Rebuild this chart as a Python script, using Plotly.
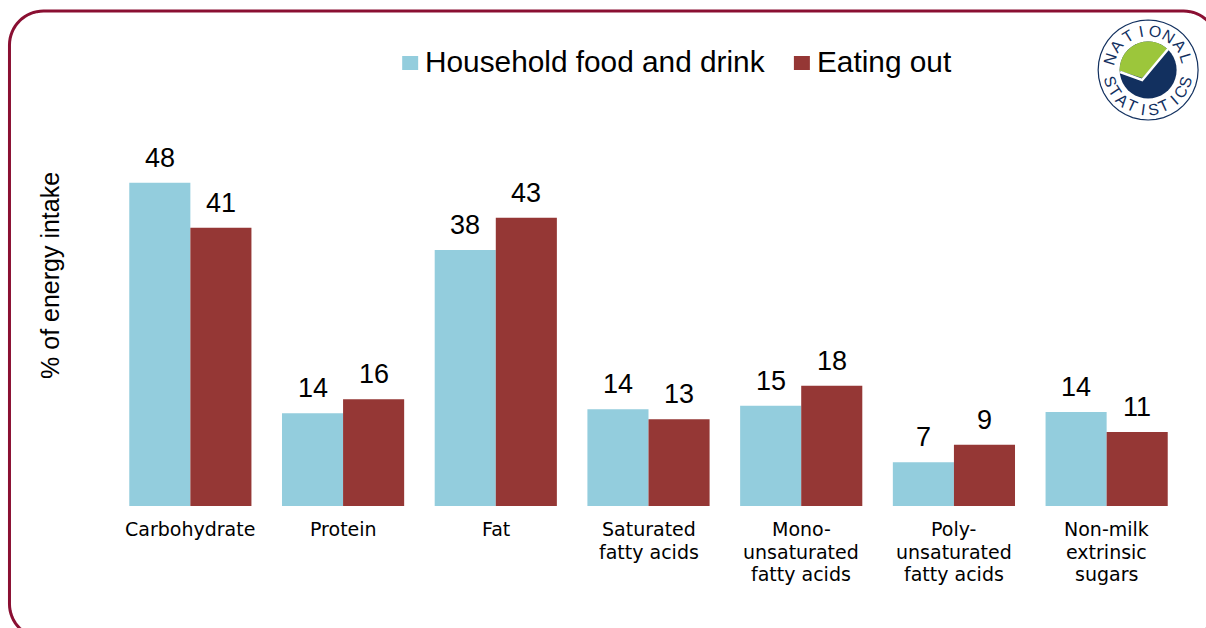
import math
import plotly.graph_objects as go

W, H = 1206, 628
categories = ["Carbohydrate", "Protein", "Fat", "Saturated fatty acids",
              "Mono-unsaturated fatty acids", "Poly-unsaturated fatty acids",
              "Non-milk extrinsic sugars"]
category_lines = [["Carbohydrate"], ["Protein"], ["Fat"], ["Saturated", "fatty acids"],
                  ["Mono-", "unsaturated", "fatty acids"], ["Poly-", "unsaturated", "fatty acids"],
                  ["Non-milk", "extrinsic", "sugars"]]
household = [48.1, 13.8, 38.1, 14.4, 14.9, 6.5, 14.0]
eating_out = [41.4, 15.9, 42.9, 12.9, 17.9, 9.1, 11.0]
household_labels = ["48", "14", "38", "14", "15", "7", "14"]
eating_out_labels = ["41", "16", "43", "13", "18", "9", "11"]
series_names = ["Household food and drink", "Eating out"]

FONT = "Liberation Sans"
BLUE, RED, FRAME = "#93CDDD", "#953735", "#8A0F32"
NAVY, GREEN = "#12305F", "#9CC63B"

L, R, T, B = 113.6, 1183.4, 130, 506
YMAX = (B - T) / 6.72

def px(x):
    return (x - L) / (R - L)

def py(y):
    return (B - y) / (B - T)

def path(points, close=True):
    s = "M" + " L".join(f"{px(x):.5f},{py(y):.5f}" for x, y in points)
    return s + (" Z" if close else "")

fig = go.Figure()
fig.add_bar(name=series_names[0], x=list(range(7)), y=household, marker=dict(color=BLUE, line=dict(width=0)))
fig.add_bar(name=series_names[1], x=list(range(7)), y=eating_out, marker=dict(color=RED, line=dict(width=0)))

ann = []
for i in range(7):
    ann.append(dict(x=i - 0.2, y=household[i], text=household_labels[i], yshift=8,
                    xref="x", yref="y", yanchor="bottom", xanchor="center", showarrow=False,
                    font=dict(size=27, color="black", family=FONT)))
    ann.append(dict(x=i + 0.2, y=eating_out[i], text=eating_out_labels[i], yshift=8,
                    xref="x", yref="y", yanchor="bottom", xanchor="center", showarrow=False,
                    font=dict(size=27, color="black", family=FONT)))
    for j, line in enumerate(category_lines[i]):
        ann.append(dict(x=i, y=py(529 + 22.5 * j), text=line, xref="x", yref="paper",
                        yanchor="middle", xanchor="center", showarrow=False,
                        font=dict(size=19, color="black", family="DejaVu Sans")))

ann.append(dict(x=px(49.5), y=py(275), text="% of energy intake", xref="paper", yref="paper",
                xanchor="center", yanchor="middle",
                textangle=-90, showarrow=False, font=dict(size=25, color="black", family=FONT)))

# frame
r, x0, y0, x1, y1 = 34, 9, 11, 1218, 638
corners = [(x0 + r, y0 + r, 180, 270), (x1 - r, y0 + r, 270, 360),
           (x1 - r, y1 - r, 0, 90), (x0 + r, y1 - r, 90, 180)]
frame = []
for cx, cy, a0, a1 in corners:
    for k in range(17):
        a = math.radians(a0 + (a1 - a0) * k / 16)
        frame.append((cx + r * math.cos(a), cy + r * math.sin(a)))
shapes = [dict(type="path", xref="paper", yref="paper", path=path(frame),
               line=dict(color=FRAME, width=3), layer="below")]

# legend
for sx, col, tx, name in [(402, BLUE, 425, series_names[0]), (794, RED, 817, series_names[1])]:
    shapes.append(dict(type="rect", xref="paper", yref="paper", x0=px(sx), x1=px(sx + 16),
                       y0=py(70), y1=py(56), fillcolor=col, line=dict(width=0)))
    ann.append(dict(x=px(tx), y=py(62), text=name, xref="paper", yref="paper", xanchor="left",
                    yanchor="middle", showarrow=False, xshift=-2,
                    font=dict(size=29.8, color="black", family=FONT)))

# logo
cx, cy = 1148.5, 70
def arc(c, radius, a0, a1, n=40):
    return [(c[0] + radius * math.cos(math.radians(a0 + (a1 - a0) * k / n)),
             c[1] + radius * math.sin(math.radians(a0 + (a1 - a0) * k / n))) for k in range(n + 1)]

shapes.append(dict(type="path", xref="paper", yref="paper", path=path(arc((cx, cy), 50, 0, 360)),
                   fillcolor="white", line=dict(color=NAVY, width=1.2)))
inner = (cx, cy)
rr = 28.5
shapes.append(dict(type="path", xref="paper", yref="paper", path=path(arc(inner, rr, 0, 360)),
                   fillcolor=NAVY, line=dict(width=0)))
green = arc(inner, rr, 177, 311) + [(cx + 20, cy - 20), (cx - 6, cy + 8), (cx - 28, cy + 1)]
shapes.append(dict(type="path", xref="paper", yref="paper", path=path(green),
                   fillcolor=GREEN, line=dict(width=0)))
shapes.append(dict(type="path", xref="paper", yref="paper",
                   path=path([(cx - 28, cy + 2), (cx - 6, cy + 10), (cx + 20, cy - 21)], close=False),
                   line=dict(color="white", width=2.5)))

def ring(word, a_start, a_end, top):
    for i, ch in enumerate(word):
        a = a_start + (a_end - a_start) * i / (len(word) - 1)
        rad = math.radians(a)
        ann.append(dict(x=px(cx + 39.5 * math.cos(rad)), y=py(cy - 39.5 * math.sin(rad)), text=ch,
                        xref="paper", yref="paper", showarrow=False, xanchor="center", yanchor="middle",
                        textangle=(90 - a) if top else (270 - a),
                        font=dict(size=16, color=NAVY, family=FONT, weight=500)))

ring("NATIONAL", 163, 17, True)
ring("STATISTICS", 197, 343, False)

fig.update_layout(
    width=W, height=H, autosize=False, paper_bgcolor="white", plot_bgcolor="white",
    margin=dict(l=L, r=W - R, t=T, b=H - B, pad=0), barmode="group", bargap=0.2, bargroupgap=0,
    annotations=ann, shapes=shapes, showlegend=False,
    font=dict(family=FONT, color="black"),
    xaxis=dict(range=[-0.5, 6.5], showticklabels=False, showgrid=False, zeroline=False,
               showline=False, ticks=""),
    yaxis=dict(range=[0, YMAX], showticklabels=False, showgrid=False, zeroline=False,
               showline=False, ticks=""),
)
fig.write_html("out.html", config=dict(displayModeBar=False),
               post_script="document.body.style.margin='0';document.body.style.overflow='hidden';")
